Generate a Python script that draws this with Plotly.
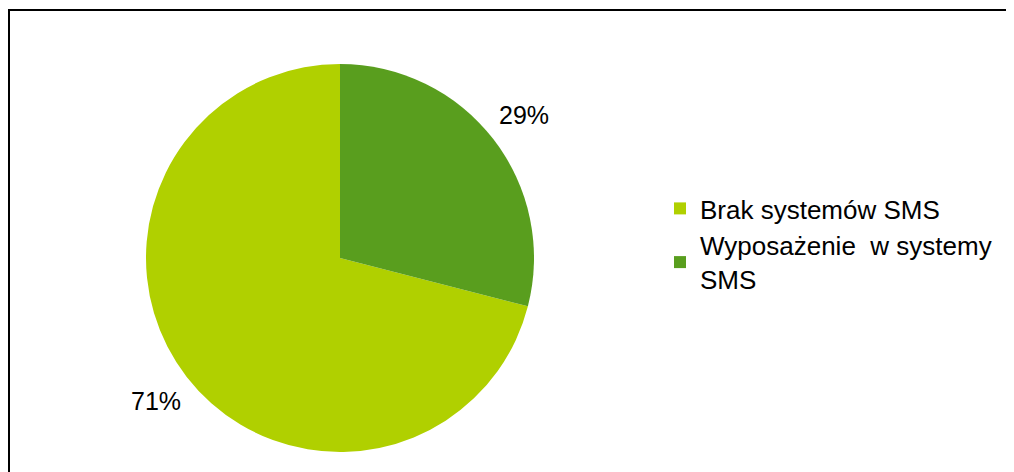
import math
import plotly.graph_objects as go

labels = ["Brak systemów SMS", "Wyposażenie  w systemy<br>SMS"]
values = [71, 29]
colors = ["#B0D000", "#599E1E"]

W, H = 1006, 464          # figure size (page body adds an 8px margin)
OFF = 8
cx, cy, R = 340 - OFF, 258 - OFF, 194  # pixel layout of pie inside the figure

total = sum(values)
# first slice runs counter-clockwise from 12 o'clock, so start it after the second slice
rot = 360.0 * values[1] / total

fig = go.Figure()
fig.add_trace(go.Pie(
    labels=labels, values=values, sort=False, direction="clockwise",
    rotation=rot, textinfo="none", hoverinfo="label+percent",
    marker=dict(colors=colors, line=dict(width=0)),
    domain=dict(x=[(cx - R) / W, (cx + R) / W], y=[(H - cy - R) / H, (H - cy + R) / H]),
))

# percent labels placed outside, at slice mid-angles (math angles, CCW from 3 o'clock)
ann = []
start = 90.0
for v in values:
    sweep = 360.0 * v / total
    mid = math.radians(start + sweep / 2)
    start += sweep
    r = R + 39
    px = cx + r * math.cos(mid)
    py = cy - r * math.sin(mid)
    ann.append(dict(x=px / W, y=1 - py / H, xref="paper", yref="paper",
                    text=f"{round(100 * v / total)}%", showarrow=False,
                    font=dict(family="Liberation Sans", size=25, color="#000000"),
                    xanchor="center", yanchor="middle"))

fig.update_layout(
    width=W, height=H,
    margin=dict(l=0, r=0, t=0, b=0),
    paper_bgcolor="#FFFFFF", plot_bgcolor="#FFFFFF",
    annotations=ann,
    legend=dict(x=(700 - OFF - 40) / W, y=1 - (244 - OFF) / H, xanchor="left", yanchor="middle",
                font=dict(family="Liberation Sans", size=26, color="#000000"),
                bgcolor="rgba(0,0,0,0)"),
    shapes=[
        dict(type="line", xref="paper", yref="paper",
             x0=1 / W, x1=1 / W, y0=0, y1=1 - 1 / H,
             line=dict(color="#000000", width=2)),
        dict(type="line", xref="paper", yref="paper",
             x0=0, x1=1, y0=1 - 2 / H, y1=1 - 2 / H,
             line=dict(color="#000000", width=2)),
    ],
)

fig.write_html("out.html")
